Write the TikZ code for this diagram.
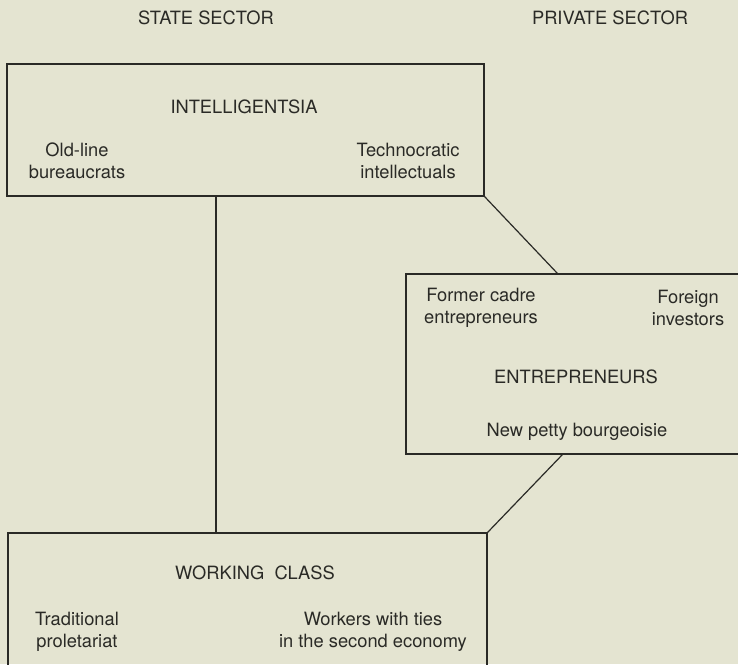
\documentclass[tikz,border=0pt]{standalone}
\usepackage{fontspec}
\setmainfont{TeX Gyre Heros}
\definecolor{paper}{HTML}{E4E4D1}
\definecolor{ink}{HTML}{2A2A26}
\begin{document}
\begin{tikzpicture}[x=1pt,y=-1pt,
  group/.style={draw=ink, line width=1.2pt, rectangle, inner sep=0pt},
  label/.style={text=ink, align=center, inner sep=0pt, font=\fontsize{18.3}{22}\selectfont},
  link/.style={draw=ink, line width=1.2pt}]
\fill[paper] (0,0) rectangle (738,664);
\useasboundingbox (0,0) rectangle (738,664);
\clip (0,0) rectangle (738,664);

\node[label] (state) at (206,18) {STATE SECTOR};
\node[label] (private) at (610,18) {PRIVATE SECTOR};

\node[group, minimum width=477pt, minimum height=132pt] (intel) at (245.5,130) {};
\node[group, minimum width=336pt, minimum height=180pt] (entre) at (574,364) {};
\node[group, minimum width=479pt, minimum height=137pt] (work) at (247.5,601.5) {};

\node[label] (intelname) at (244,107) {INTELLIGENTSIA};
\node[label] (oldline) at (77,161) {Old-line\\bureaucrats};
\node[label] (techno) at (408,161) {Technocratic\\intellectuals};

\node[label] (cadre) at (481,308) {Former cadre\\entrepreneurs};
\node[label] (foreign) at (688,308) {Foreign\\investors};
\node[label] (entrename) at (576,377) {ENTREPRENEURS};
\node[label] (petty) at (577,432) {New petty bourgeoisie};

\node[label] (workname) at (255,573) {WORKING\ \ CLASS};
\node[label] (trad) at (77,632) {Traditional\\proletariat};
\node[label] (ties) at (373,632) {Workers with ties\\in the second economy};

\path[link] (216,0 |- intel.south) -- (216,0 |- work.north);
\path[link] (intel.south east) -- ([xshift=152pt]entre.north west);
\path[link] ([xshift=157pt]entre.south west) -- (work.north east);
\end{tikzpicture}
\end{document}
